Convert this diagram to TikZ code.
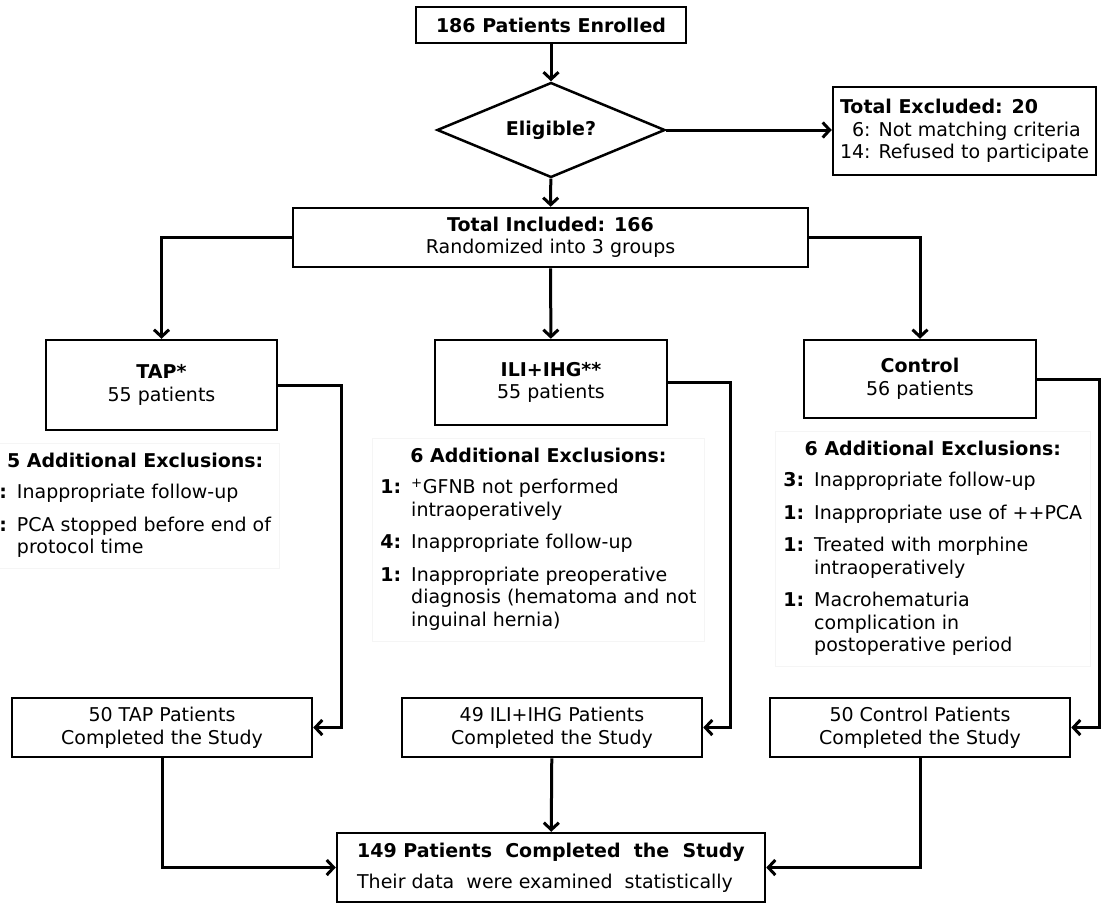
\documentclass[tikz,border=0pt]{standalone}
\usepackage{fontspec}
\setmainfont{DejaVu Sans}
\usetikzlibrary{arrows.meta,shapes.geometric}

\begin{document}
\begin{tikzpicture}[x=1pt,y=-1pt,font=\fontsize{19}{22.5}\selectfont,
    box/.style={draw,line width=2.5pt,align=center,inner sep=0pt},
    exlist/.style={draw=black!4,line width=0.8pt,anchor=north west,inner xsep=8pt,inner ysep=8pt},
    flow/.style={line width=3pt,-{Straight Barb[length=7pt,width=15pt]}}]
  \useasboundingbox (0,0) rectangle (1106,903);

  % top part
  \node[box,minimum width=270pt,minimum height=36pt] (enroll) at (551,25) {\textbf{186 Patients Enrolled}};
  \node[box,diamond,aspect=2.4,minimum width=228pt,minimum height=95pt] (elig) at (551,130) {\textbf{Eligible?}};
  \node[box,align=left,minimum width=263pt,minimum height=88pt] (excl) at (964.5,131)
    {\textbf{Total Excluded: 20}\\\phantom{1}6: Not matching criteria\\14: Refused to participate};
  \node[box,minimum width=515pt,minimum height=59pt] (incl) at (550.5,237.5)
    {\textbf{Total Included: 166}\\Randomized into 3 groups};

  % groups
  \node[box,minimum width=231pt,minimum height=90pt] (tap) at (161.5,385) {\textbf{TAP*}\\55 patients};
  \node[box,minimum width=232pt,minimum height=85pt] (ili) at (551,382.5) {\textbf{ILI+IHG**}\\55 patients};
  \node[box,minimum width=232pt,minimum height=78pt] (ctrl) at (920,379) {\textbf{Control}\\56 patients};

  % additional exclusions
  \node[exlist] (taplist) at (-9,443.3) {\begin{tabular}{@{}r@{\hspace{10pt}}l@{}}
      \multicolumn{2}{c}{\textbf{5 Additional Exclusions:}}\\[9pt]
      \textbf{:} & Inappropriate follow-up\\[10pt]
      \textbf{:} & PCA stopped before end of\\
      & protocol time
    \end{tabular}};
  \node[exlist] (ililist) at (372,438.3) {\begin{tabular}{@{}r@{\hspace{10pt}}l@{}}
      \multicolumn{2}{c}{\textbf{6 Additional Exclusions:}}\\[9pt]
      \textbf{1:} & \textsuperscript{+}GFNB not performed\\
      & intraoperatively\\[10pt]
      \textbf{4:} & Inappropriate follow-up\\[10pt]
      \textbf{1:} & Inappropriate preoperative\\
      & diagnosis (hematoma and not\\
      & inguinal hernia)
    \end{tabular}};
  \node[exlist] (ctrllist) at (775,431.3) {\begin{tabular}{@{}r@{\hspace{10pt}}l@{}}
      \multicolumn{2}{c}{\textbf{6 Additional Exclusions:}}\\[9pt]
      \textbf{3:} & Inappropriate follow-up\\[10pt]
      \textbf{1:} & Inappropriate use of ++PCA\\[10pt]
      \textbf{1:} & Treated with morphine\\
      & intraoperatively\\[10pt]
      \textbf{1:} & Macrohematuria\\
      & complication in\\
      & postoperative period
    \end{tabular}};

  % completed
  \node[box,minimum width=300pt,minimum height=59pt] (tapdone) at (162,727.5) {50 TAP Patients\\Completed the Study};
  \node[box,minimum width=300pt,minimum height=59pt] (ilidone) at (552,727.5) {49 ILI+IHG Patients\\Completed the Study};
  \node[box,minimum width=300pt,minimum height=59pt] (ctrldone) at (920,727.5) {50 Control Patients\\Completed the Study};
  \node[box,align=left,minimum width=428pt,minimum height=69pt] (final) at (551,867.5)
    {\textbf{149 Patients\ \ Completed\ \ the\ \ Study}\\[8.5pt]Their data\ \ were examined\ \ statistically};

  % connectors
  \draw[flow] (enroll) -- (elig);
  \draw[flow] (elig.east) -- (elig.east -| excl.west);
  \draw[flow] (elig) -- (incl);
  \draw[flow] (incl.west) -| (tap.north);
  \draw[flow] (incl) -- (ili);
  \draw[flow] (incl.east) -| (ctrl.north);
  \draw[flow] (tap.east) -- ++(63,0) |- (tapdone.east);
  \draw[flow] (ili.east) -- ++(62,0) |- (ilidone.east);
  \draw[flow] (ctrl.east) -- ++(62,0) |- (ctrldone.east);
  \draw[flow] (tapdone) |- (final.west);
  \draw[flow] (ilidone) -- (final);
  \draw[flow] (ctrldone) |- (final.east);
\end{tikzpicture}
\end{document}
